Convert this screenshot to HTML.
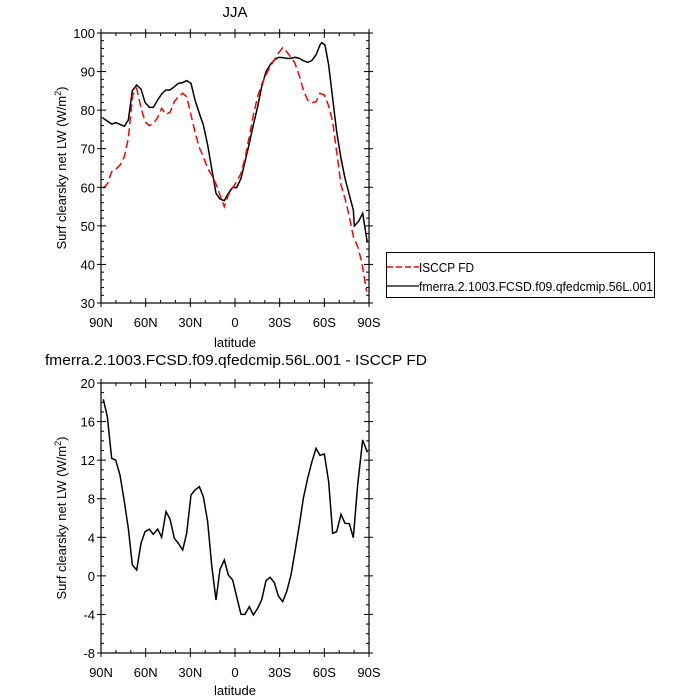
<!DOCTYPE html>
<html><head><meta charset="utf-8"><style>
body{margin:0;background:#fff;}
svg{display:block;font-family:"Liberation Sans",sans-serif;}
</style></head><body>
<svg width="700" height="700" viewBox="0 0 700 700" xmlns="http://www.w3.org/2000/svg">
<text x="235" y="17" font-size="15" text-anchor="middle">JJA</text>
<text x="45" y="365" font-size="15" textLength="382" lengthAdjust="spacingAndGlyphs">fmerra.2.1003.FCSD.f09.qfedcmip.56L.001 - ISCCP FD</text>
<text x="235" y="347" font-size="13" text-anchor="middle">latitude</text>
<text x="235" y="695" font-size="13" text-anchor="middle">latitude</text>
<text transform="translate(66,168) rotate(-90)" font-size="13" text-anchor="middle">Surf clearsky net LW (W/m<tspan font-size="9" dy="-5">2</tspan><tspan dy="5">)</tspan></text>
<text transform="translate(66,518) rotate(-90)" font-size="13" text-anchor="middle">Surf clearsky net LW (W/m<tspan font-size="9" dy="-5">2</tspan><tspan dy="5">)</tspan></text>
<g transform="translate(90,25) scale(0.33333)" fill="none" stroke-width="4.5">
<polyline stroke="#000" points="40,280 65,297 78,293 103,304 115,285 127,197 140,180 153,192 165,232 178,247 190,247 203,225 215,207 228,195 240,195 253,185 265,175 278,173 290,167 303,175 315,225 328,265 340,300 353,360 365,430 378,505 390,522 403,527 415,505 428,487 440,488 453,460 465,410 478,355 490,300 503,245 515,185 528,140 540,120 553,105 565,97 578,98 590,100 603,100 615,97 628,100 640,107 653,112 665,107 678,90 690,60 695,53 705,60 716,120 728,220 740,320 753,400 765,460 778,510 790,555 793,603 805,590 818,565 832,653"/>
<polyline stroke="#f00" stroke-dasharray="24,12" points="40,490 53,475 65,440 78,432 90,420 103,395 115,340 128,210 140,190 153,248 165,290 178,302 190,295 203,278 215,250 228,268 240,262 253,230 265,215 278,205 290,215 303,270 315,320 328,368 340,395 353,430 365,450 378,477 390,510 403,545 415,510 428,488 440,470 453,445 465,400 478,335 490,270 503,215 515,178 528,150 540,125 553,105 565,85 578,68 590,80 603,97 615,115 628,152 640,195 653,225 665,233 678,230 690,205 703,210 715,240 728,290 740,380 753,480 765,520 778,575 790,635 803,665 815,710 830,800"/>
</g>
<g transform="translate(90,375) scale(0.33333)" fill="none" stroke-width="4.5">
<polyline stroke="#000" points="40,73 52,125 65,250 77,255 90,300 103,380 115,460 127,570 140,585 153,505 165,470 178,463 190,478 203,462 215,487 228,410 240,432 253,490 265,505 278,525 290,475 303,360 315,345 328,335 340,365 353,440 365,570 378,675 390,583 403,555 415,600 428,615 440,665 453,718 465,718 478,695 490,720 503,700 515,675 528,617 540,607 553,623 565,663 578,680 590,650 603,600 615,530 628,450 640,370 653,310 665,263 678,220 690,241 703,237 716,320 728,475 740,470 753,418 765,445 778,446 790,488 803,330 818,195 832,232"/>
</g>
<rect x="386.5" y="252.5" width="268" height="45" fill="none" stroke="#000" stroke-width="1"/>
<line x1="387" y1="267" x2="419" y2="267" stroke="#f00" stroke-width="1.5" stroke-dasharray="6,3"/>
<line x1="387" y1="286" x2="419" y2="286" stroke="#000" stroke-width="1.2"/>
<text x="419" y="272" font-size="13" textLength="55" lengthAdjust="spacingAndGlyphs">ISCCP FD</text>
<text x="419" y="291" font-size="13" textLength="234" lengthAdjust="spacingAndGlyphs">fmerra.2.1003.FCSD.f09.qfedcmip.56L.001</text>
</svg>
<script>
(function(){
var ns="http://www.w3.org/2000/svg",svg=document.querySelector('svg');
function el(t,a,txt){var e=document.createElementNS(ns,t);for(var k in a)e.setAttribute(k,a[k]);if(txt!=null)e.textContent=txt;svg.appendChild(e);return e;}
function line(x1,y1,x2,y2){el('line',{x1:x1,y1:y1,x2:x2,y2:y2,stroke:'#000','stroke-width':1});}
function panel(top,bot,ymin,ymax,ymaj,ymin2){
 var L=101,R=369;
 el('rect',{x:L,y:top,width:R-L,height:bot-top,fill:'none',stroke:'#000','stroke-width':1.2});
 var xl=['90N','60N','30N','0','30S','60S','90S'];
 for(var i=0;i<=18;i++){var x=L+(R-L)*i/18;var maj=i%3==0;var l=maj?5:3;
  line(x,bot,x,bot-l);line(x,top,x,top+l);
  if(maj){line(x,bot,x,bot+4);line(x,top,x,top-4);el('text',{x:x,y:bot+24,'font-size':13,'text-anchor':'middle'},xl[i/3]);}}
 var n=Math.round((ymax-ymin)/ymin2);
 for(var j=0;j<=n;j++){var v=ymin+j*ymin2;var y=bot-(bot-top)*j/n;var maj=Math.abs(v/ymaj-Math.round(v/ymaj))<1e-6;var l=maj?5:3;
  line(L,y,L+l,y);line(R,y,R-l,y);
  if(maj){line(L,y,L-4,y);line(R,y,R+4,y);el('text',{x:L-6,y:y+5,'font-size':13,'text-anchor':'end'},String(v));}}
}
panel(33,303,30,100,10,2);
panel(383,653,-8,20,4,1);
})();
</script>
</body></html>
